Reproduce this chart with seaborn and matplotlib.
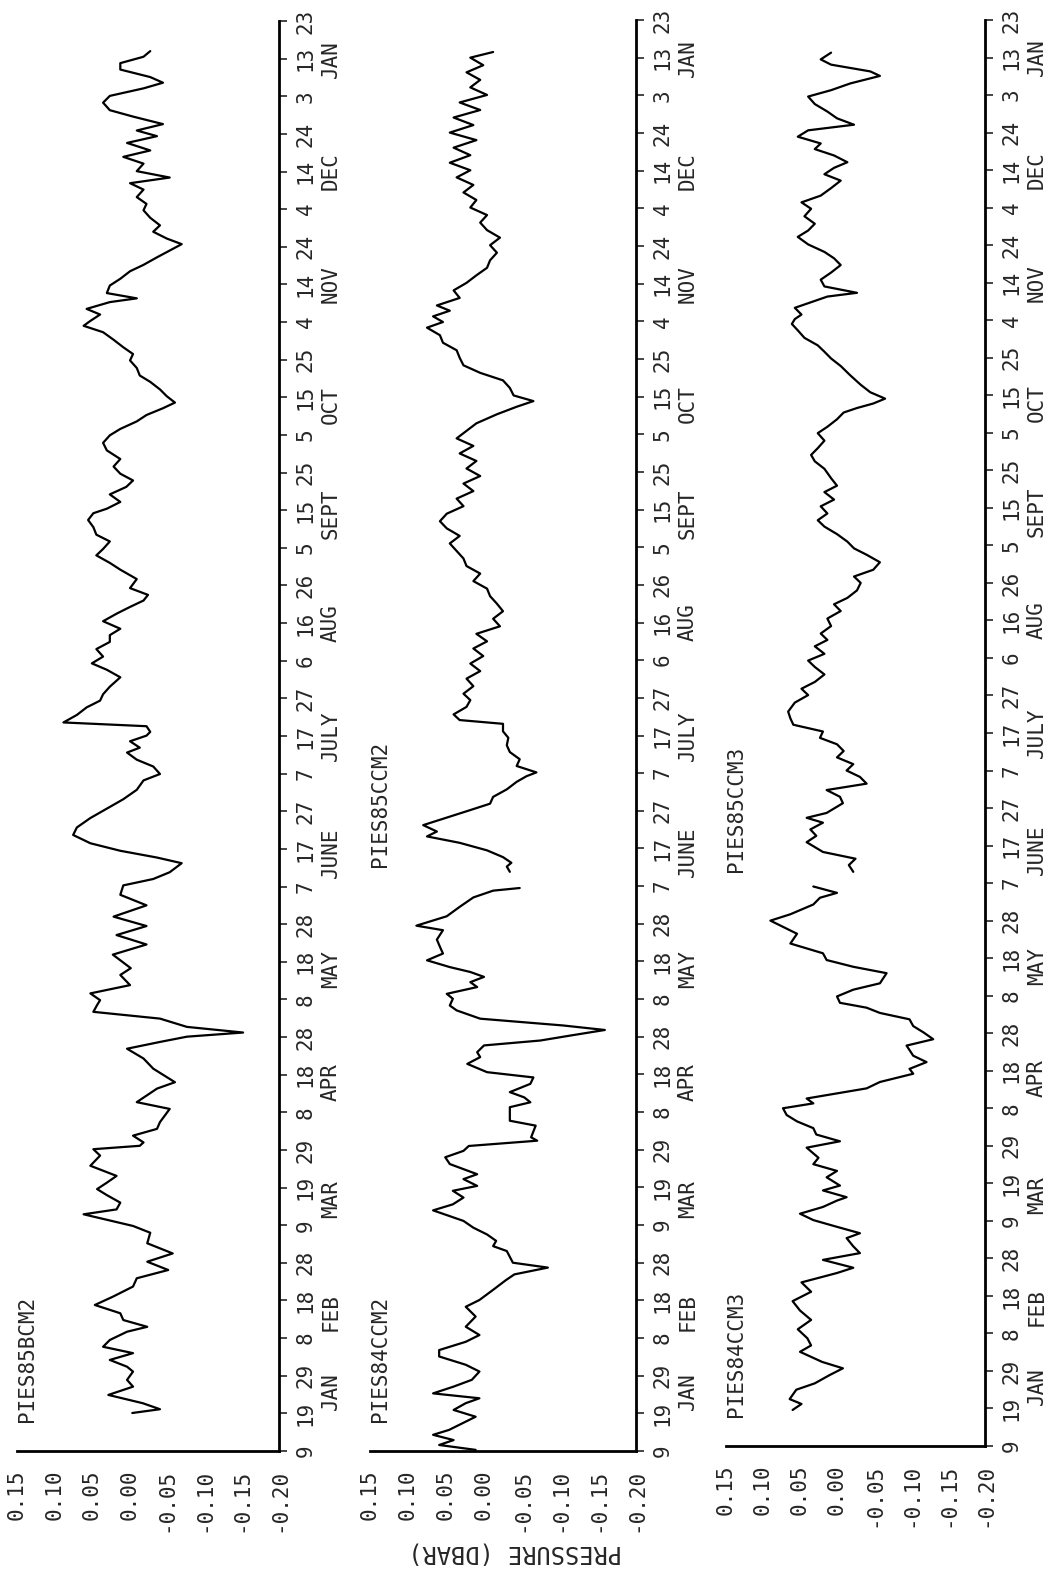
import matplotlib
matplotlib.use('Agg')
import matplotlib.pyplot as plt
import seaborn as sns

sns.set_style('white')
plt.rcParams['font.family'] = ['DejaVu Sans Mono', 'DejaVu Sans']

# days counted from 9 Jan 1984, pressure in dbar
bcm2_day = [10.1, 11.1, 12.7, 14.9, 17.1, 18.9, 21.1, 22.4, 24.2, 26.0, 27.7, 29.5, 31.7, 33.0, 34.8, 36.6,
            38.8, 41.0, 43.7, 45.9, 48.1, 50.3, 52.5, 55.2, 58.0, 59.8, 62.9, 64.2, 66.0, 68.0, 69.6, 71.3,
            73.1, 75.8, 78.5, 80.2, 81.1, 82.0, 83.8, 85.6, 87.4, 90.9, 92.7, 96.3, 98.0, 101.6, 104.3, 106.9,
            108.7, 110.1, 111.2, 112.7, 114.9, 116.7, 118.5, 119.8, 121.6, 123.8, 126.5, 128.3, 131.9, 134.6,
            137.1, 139.5, 142.0, 145.0, 147.8, 150.3, 152.0, 153.8, 156.2, 157.7, 159.5, 161.5, 163.7, 165.7,
            168.2, 170.7, 173.2, 175.7, 178.2, 179.9, 181.9, 183.7, 185.6, 186.9, 188.6, 190.1, 191.1, 192.6,
            193.6, 195.6, 197.6, 199.4, 201.1, 203.1, 205.6, 207.6, 209.3, 211.1, 213.1, 215.0, 216.8, 218.5,
            220.5, 222.5, 224.3, 226.0, 227.5, 229.3, 231.7, 234.2, 236.0, 238.0, 239.7, 241.7, 243.5, 245.5,
            247.4, 249.2, 250.4, 252.2, 254.2, 256.2, 257.9, 259.7, 261.6, 263.6, 265.9, 267.9, 269.9, 271.6,
            273.6, 275.3, 277.1, 278.6, 280.3, 282.1, 284.1, 285.8, 287.8, 289.8, 291.5, 293.3, 295.3, 297.3,
            299.0, 300.3, 302.0, 303.5, 305.3, 306.3, 307.7, 309.7, 311.5, 313.5, 315.2, 317.2, 319.0, 320.7,
            322.2, 324.0, 325.7, 327.7, 329.7, 331.4, 333.2, 335.2, 336.9, 338.4, 340.1, 342.1, 343.9, 345.6,
            347.6, 349.4, 350.9, 352.6, 354.6, 356.3, 358.3, 360.1, 362.1, 363.6, 365.1, 367.1, 368.8, 370.5,
            372.0]
bcm2_p = [-0.004, -0.041, -0.018, 0.028, -0.005, 0.003, -0.005, 0.003, 0.026, -0.005, 0.035, 0.026, 0.003,
          -0.024, 0.008, 0.012, 0.046, 0.022, -0.005, -0.010, -0.052, -0.024, -0.058, -0.024, -0.028, -0.005,
          0.061, 0.017, 0.012, 0.030, 0.043, 0.030, 0.017, 0.052, 0.039, 0.048, -0.014, -0.019, -0.005, -0.037,
          -0.041, -0.054, -0.010, -0.037, -0.061, -0.032, -0.019, 0.003, -0.041, -0.077, -0.152, -0.077, -0.041,
          0.048, 0.043, 0.039, 0.052, -0.001, 0.012, -0.002, 0.022, -0.023, 0.017, -0.023, 0.021, -0.023, 0.012,
          0.008, -0.032, -0.054, -0.070, -0.037, 0.012, 0.052, 0.075, 0.070, 0.052, 0.030, 0.008, -0.010, -0.019,
          -0.041, -0.032, -0.010, 0.003, -0.014, -0.001, -0.023, -0.028, -0.023, 0.088, 0.070, 0.057, 0.039,
          0.035, 0.026, 0.012, 0.030, 0.050, 0.035, 0.044, 0.026, 0.026, 0.012, 0.035, 0.017, -0.001, -0.019,
          -0.025, -0.001, -0.010, 0.012, 0.026, 0.044, 0.035, 0.026, 0.044, 0.048, 0.055, 0.048, 0.030, 0.012,
          0.026, 0.004, -0.005, 0.012, 0.021, 0.012, 0.030, 0.035, 0.026, 0.012, -0.010, -0.023, -0.045, -0.061,
          -0.050, -0.041, -0.028, -0.014, -0.010, -0.001, -0.005, 0.008, 0.021, 0.035, 0.061, 0.052, 0.039, 0.057,
          0.026, -0.010, 0.030, 0.026, 0.012, -0.001, -0.019, -0.037, -0.054, -0.070, -0.050, -0.032, -0.041,
          -0.028, -0.019, -0.023, -0.010, -0.019, -0.001, -0.054, -0.010, -0.019, 0.008, -0.028, 0.003, -0.037,
          -0.010, -0.045, -0.005, 0.026, 0.035, 0.026, -0.019, -0.045, -0.028, 0.012, 0.012, -0.019, -0.028]

c84_day = [0.3, 1.6, 2.9, 4.3, 5.6, 7.8, 9.1, 10.9, 12.7, 14.0, 15.3, 17.1, 18.9, 21.1, 22.9, 25.1, 26.8, 29.0,
           30.8, 33.0, 35.7, 38.3, 40.1, 42.8, 45.4, 46.9, 48.7, 50.0, 53.1, 54.4, 55.8, 57.5, 59.3, 61.1, 63.9,
           65.5, 67.3, 69.1, 70.4, 72.2, 73.5, 76.2, 78.0, 79.7, 81.0, 82.4, 83.3, 86.4, 87.7, 91.3, 92.6, 93.9,
           95.3, 97.5, 99.2, 100.6, 102.8, 104.6, 105.9, 107.7, 109.0, 110.3, 111.8, 113.0, 114.8, 117.0, 118.3,
           120.1, 121.4, 123.2, 124.5, 125.9, 127.2, 128.5, 130.3, 132.1, 133.9, 135.8, 138.3, 139.5, 142.0,
           144.5, 147.0, 148.8, 149.5]
c84_p = [0.011, 0.059, 0.040, 0.067, 0.046, 0.024, 0.011, 0.040, 0.024, 0.006, 0.067, 0.040, 0.016, 0.006,
         0.024, 0.059, 0.059, 0.024, 0.006, 0.024, 0.011, 0.024, 0.006, -0.012, -0.029, -0.040, -0.084, -0.038,
         -0.030, -0.012, -0.016, -0.004, 0.014, 0.027, 0.067, 0.041, 0.027, 0.041, 0.009, 0.027, 0.009, 0.045,
         0.051, 0.027, 0.020, -0.070, -0.062, -0.068, -0.034, -0.034, -0.061, -0.053, -0.034, -0.061, -0.065,
         -0.004, 0.022, 0.005, 0.009, 0.000, -0.074, -0.113, -0.159, -0.104, 0.005, 0.036, 0.045, 0.041, 0.049,
         0.009, 0.018, 0.000, 0.018, 0.045, 0.075, 0.054, 0.058, 0.062, 0.054, 0.089, 0.049, 0.032, 0.014,
         -0.012, -0.047]

c85_day = [153.8, 155.2, 156.2, 157.7, 159.5, 161.5, 163.2, 164.5, 166.2, 168.2, 170.2, 171.9, 173.7, 175.7,
           177.7, 179.2, 180.2, 181.9, 183.7, 185.6, 187.4, 189.4, 191.1, 193.1, 194.1, 195.6, 197.6, 199.4,
           201.1, 203.1, 205.1, 207.1, 209.1, 211.1, 213.1, 215.0, 217.0, 219.0, 221.0, 223.0, 225.0, 227.0,
           229.0, 231.0, 233.0, 235.0, 237.0, 239.0, 241.0, 243.0, 245.0, 246.9, 248.9, 250.9, 252.9, 254.9,
           256.9, 258.9, 260.9, 262.9, 264.9, 266.9, 268.9, 270.9, 272.9, 275.3, 277.3, 278.8, 280.3, 282.3,
           284.3, 286.3, 288.3, 290.3, 292.3, 294.3, 296.3, 298.3, 299.8, 301.3, 302.8, 304.2, 306.2, 308.2,
           310.2, 312.2, 314.2, 316.2, 318.2, 320.2, 322.2, 324.2, 326.2, 328.2, 330.2, 332.2, 334.2, 336.2,
           338.2, 340.1, 342.1, 344.1, 346.1, 348.1, 350.1, 352.1, 354.1, 356.1, 358.1, 360.1, 362.1, 364.1,
           366.1, 368.0, 370.0, 371.5]
c85_p = [-0.034, -0.030, -0.036, -0.025, -0.004, 0.032, 0.075, 0.062, 0.080, 0.049, 0.018, -0.008, -0.012,
         -0.030, -0.043, -0.056, -0.069, -0.043, -0.047, -0.034, -0.030, -0.032, -0.025, -0.025, 0.032, 0.040,
         0.023, 0.018, 0.027, 0.014, 0.023, 0.005, 0.018, 0.001, 0.014, -0.004, 0.010, -0.021, -0.012, -0.025,
         -0.017, -0.008, -0.004, 0.014, 0.005, 0.023, 0.027, 0.036, 0.045, 0.032, 0.049, 0.058, 0.049, 0.027,
         0.036, 0.014, 0.027, 0.005, 0.023, 0.010, 0.032, 0.014, 0.036, 0.023, 0.010, -0.017, -0.043, -0.065,
         -0.039, -0.034, -0.025, 0.005, 0.027, 0.032, 0.036, 0.054, 0.058, 0.075, 0.054, 0.067, 0.045, 0.062,
         0.032, 0.040, 0.023, 0.010, -0.004, -0.008, -0.017, -0.008, -0.021, -0.004, 0.005, -0.004, 0.018,
         0.010, 0.027, 0.014, 0.036, 0.018, 0.045, 0.018, 0.040, 0.010, 0.045, 0.014, 0.040, 0.005, 0.032,
         -0.004, 0.018, 0.005, 0.023, 0.001, 0.018, -0.012]

c84m3_day = [9.6, 11.2, 12.5, 15.0, 16.7, 18.9, 20.7, 22.4, 25.1, 26.8, 28.7, 31.1, 33.6, 36.1, 38.6, 41.1,
             43.6, 46.1, 47.5, 49.6, 51.4, 53.2, 55.4, 56.7, 58.4, 60.2, 61.9, 63.7, 65.4, 66.3, 68.1, 69.4,
             71.6, 73.3, 75.1, 76.8, 79.5, 81.2, 83.0, 84.7, 86.5, 88.2, 90.0, 91.3, 92.6, 95.3, 97.0, 99.2,
             100.5, 102.3, 104.0, 106.7, 108.4, 110.2, 111.9, 113.7, 115.4, 116.8, 118.1, 119.8, 121.6, 123.3,
             126.0, 127.7, 129.5, 131.3, 133.9, 136.5, 140.0, 141.7, 144.3, 146.1, 147.4, 149.1]
c84m3_p = [0.060, 0.048, 0.064, 0.055, 0.030, 0.010, -0.008, 0.020, 0.050, 0.035, 0.040, 0.053, 0.035, 0.050,
           0.060, 0.035, 0.048, 0.000, -0.022, 0.019, -0.031, -0.022, -0.013, -0.031, 0.000, 0.032, 0.050, 0.019,
           0.000, -0.013, 0.019, -0.004, 0.014, 0.000, 0.032, 0.025, 0.041, -0.004, 0.028, 0.032, 0.054, 0.068,
           0.073, 0.032, 0.041, -0.040, -0.058, -0.103, -0.098, -0.121, -0.103, -0.094, -0.130, -0.117, -0.103,
           -0.098, -0.058, -0.040, -0.004, 0.000, -0.022, -0.058, -0.067, -0.022, 0.014, 0.019, 0.063, 0.054,
           0.090, 0.063, 0.032, 0.023, 0.000, 0.032]

c85m3_day = [153.0, 154.8, 156.5, 158.3, 160.9, 162.6, 164.3, 166.1, 167.4, 168.7, 171.3, 173.0, 174.8, 176.5,
             178.3, 180.0, 181.7, 183.5, 185.2, 187.0, 188.7, 190.4, 192.2, 193.9, 195.7, 198.1, 200.1, 201.8,
             203.6, 205.6, 207.6, 209.3, 211.1, 213.1, 214.8, 216.5, 218.5, 220.5, 222.5, 224.3, 226.0, 228.0,
             230.0, 231.7, 233.5, 235.5, 237.5, 239.2, 241.0, 243.0, 245.0, 246.7, 248.5, 250.4, 252.2, 254.2,
             255.9, 257.9, 260.4, 262.4, 264.1, 265.9, 267.9, 269.9, 271.6, 273.6, 275.4, 276.6, 277.8, 279.1,
             280.8, 282.8, 285.3, 287.8, 289.8, 291.6, 293.3, 295.3, 297.3, 299.0, 300.3, 301.5, 303.3, 304.8,
             306.3, 307.3, 309.0, 310.8, 312.7, 314.7, 316.5, 318.2, 320.2, 322.2, 323.9, 325.7, 327.7, 329.7,
             331.4, 333.2, 335.2, 337.2, 338.9, 340.6, 342.1, 343.9, 345.6, 347.1, 348.9, 350.6, 352.1, 353.8,
             355.6, 357.6, 359.6, 361.3, 363.1, 365.1, 366.3, 368.1, 369.5, 371.3]
c85m3_p = [-0.022, -0.016, -0.025, 0.019, 0.041, 0.028, 0.036, 0.019, 0.041, 0.014, -0.008, -0.004, 0.014,
           -0.040, -0.031, -0.013, -0.022, 0.000, -0.009, 0.000, 0.023, 0.019, 0.059, 0.063, 0.066, 0.057, 0.039,
           0.048, 0.030, 0.017, 0.030, 0.039, 0.017, 0.030, 0.013, 0.022, 0.008, 0.013, -0.005, 0.004, -0.014,
           -0.027, -0.032, -0.023, -0.049, -0.058, -0.040, -0.023, -0.014, 0.000, 0.017, 0.026, 0.013, 0.022,
           0.004, 0.017, 0.000, 0.008, 0.017, 0.030, 0.035, 0.026, 0.017, 0.026, 0.013, 0.000, -0.009, -0.027,
           -0.049, -0.065, -0.045, -0.032, -0.018, -0.005, 0.008, 0.017, 0.026, 0.044, 0.053, 0.061, 0.057,
           0.048, 0.057, 0.035, 0.013, -0.027, 0.017, 0.022, 0.008, -0.005, 0.004, 0.017, 0.039, 0.053, 0.039,
           0.030, 0.044, 0.035, 0.048, 0.022, 0.008, -0.005, 0.017, 0.004, -0.014, 0.004, 0.030, 0.022, 0.053,
           0.039, -0.023, 0.000, 0.013, 0.030, 0.039, 0.008, -0.018, -0.058, -0.045, 0.008, 0.022, 0.008]

tick_days = list(range(0, 381, 10))
tick_labels = ['9', '19', '29', '8', '18', '28', '9', '19', '29', '8', '18', '28', '8', '18', '28',
               '7', '17', '27', '7', '17', '27', '6', '16', '26', '5', '15', '25', '5', '15', '25',
               '4', '14', '24', '4', '14', '24', '3', '13', '23']
month_names = ['JAN', 'FEB', 'MAR', 'APR', 'MAY', 'JUNE', 'JULY', 'AUG', 'SEPT', 'OCT', 'NOV', 'DEC', 'JAN']
month_days = [16, 37, 67, 98, 128, 159, 190, 220, 249, 278, 310, 340, 370]
p_ticks = [0.15, 0.10, 0.05, 0.00, -0.05, -0.10, -0.15, -0.20]
p_labels = ['0.15', '0.10', '0.05', '0.00', '-0.05', '-0.10', '-0.15', '-0.20']

W, H = 1044, 1580
fig = plt.figure(figsize=(W / 100, H / 100), dpi=100)

# panels: (left, right, bottom, top) in pixels, series and their labels
panels = [
    ((17, 279, 1451, 21), [(bcm2_day, bcm2_p)], [('PIES85BCM2', 0.15, 7.7)]),
    ((370, 636, 1451, 20), [(c84_day, c84_p), (c85_day, c85_p)],
     [('PIES84CCM2', 0.15, 7.7), ('PIES85CCM2', 0.15, 155)]),
    ((726, 985, 1446, 20), [(c84m3_day, c84m3_p), (c85m3_day, c85m3_p)],
     [('PIES84CCM3', 0.15, 7.7), ('PIES85CCM3', 0.15, 153)]),
]

for (l, r, b, t), series, labels in panels:
    ax = fig.add_axes([l / W, 1 - b / H, (r - l) / W, (b - t) / H])
    for d, p in series:
        sns.lineplot(x=p, y=d, orient='y', sort=False, estimator=None, color='black', lw=1.6, ax=ax)
    ax.set_xlim(0.15, -0.20)
    ax.set_ylim(0, 380)
    ax.set_xlabel('')
    ax.set_ylabel('')
    for s in ['top', 'left']:
        ax.spines[s].set_visible(False)
    for s in ['bottom', 'right']:
        ax.spines[s].set_linewidth(2)
        ax.spines[s].set_color('black')
    ax.yaxis.tick_right()
    ax.set_yticks(tick_days, tick_labels)
    ax.set_xticks(p_ticks, p_labels)
    ax.tick_params(axis='y', direction='out', length=6, width=1.2, pad=6, labelsize=15, labelrotation=90)
    ax.tick_params(axis='x', direction='inout', length=10, width=1.2, pad=8, labelsize=15, labelrotation=90)
    for lab in ax.get_yticklabels():
        lab.set_va('center')
    for name, d in zip(month_names, month_days):
        ax.annotate(name, xy=(1, d), xycoords=('axes fraction', 'data'), xytext=(52, 0),
                    textcoords='offset pixels', rotation=90, ha='center', va='center', fontsize=15)
    for txt, px, d in labels:
        ax.text(px, d, txt, rotation=90, ha='left', va='bottom', fontsize=15)

fig.text(515 / W, 1 - 1553 / H, 'PRESSURE (DBAR)', rotation=180, ha='center', va='center', fontsize=17)

fig.savefig('out.png', dpi=100)
